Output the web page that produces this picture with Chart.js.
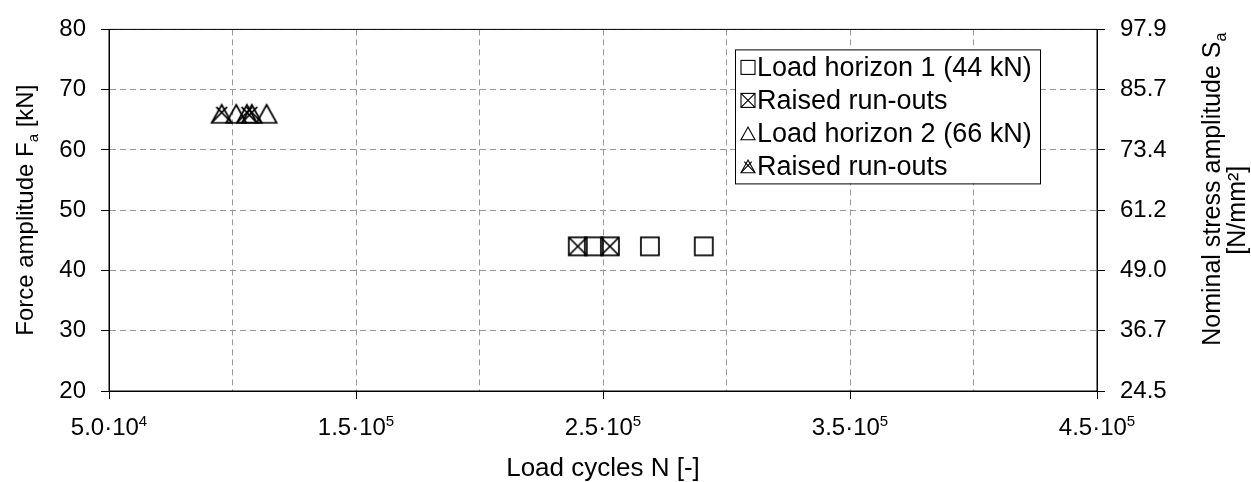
<!DOCTYPE html>
<html>
<head>
<meta charset="utf-8">
<script src="https://cdn.jsdelivr.net/npm/chart.js@4/dist/chart.umd.min.js"></script>
<style>
  body { margin: 0; background: #fff; }
  #kutu { width: 1251px; height: 482px; }
</style>
</head>
<body>
<div id="kutu"><canvas id="grafik"></canvas></div>
<script>

/*VERILER*/
var horizon1X = [246300, 269000, 290800];
var horizon1Y = [44, 44, 44];
var runout1X = [239800, 252800];
var runout1Y = [44, 44];
var horizon2X = [101500, 113800];
var horizon2Y = [66, 66];
var runout2X = [95600, 105800, 107800];
var runout2Y = [66, 66, 66];

var seriesLabels = ["Load horizon 1 (44 kN)", "Raised run-outs", "Load horizon 2 (66 kN)", "Raised run-outs"];
var xTickValues = [50000, 150000, 250000, 350000, 450000];
var xTickBase = ["5.0·10", "1.5·10", "2.5·10", "3.5·10", "4.5·10"];
var xTickExp = ["4", "5", "5", "5", "5"];
var stressTickLabels = ["24.5", "36.7", "49.0", "61.2", "73.4", "85.7", "97.9"];
/*VERILER*/

var yaziTipi = "'Liberation Sans', Arial, sans-serif";

function noktalar(xs, ys) {
  var sonuc = [];
  for (var i = 0; i < xs.length; i++) {
    sonuc.push({x: xs[i], y: ys[i]});
  }
  return sonuc;
}

/*ISARETCI KODLARI*/
function isaretciCiz(g, tur, cx, cy, s, lw) {
  g.save();
  g.strokeStyle = "#000";
  g.lineWidth = lw;
  g.lineJoin = "miter";
  var a = cx - s / 2, b = cx + s / 2;
  if (tur == "kare" || tur == "kareX") {
    var t = cy - s / 2, u = cy + s / 2;
    g.strokeRect(a, t, s, s);
    if (tur == "kareX") {
      g.beginPath();
      g.moveTo(a, t); g.lineTo(b, u);
      g.moveTo(b, t); g.lineTo(a, u);
      g.stroke();
    }
  } else {
    var h = s * 0.9;
    var ust = cy - h / 2, alt = cy + h / 2;
    g.beginPath();
    g.moveTo(cx, ust); g.lineTo(b, alt); g.lineTo(a, alt); g.closePath();
    g.stroke();
    if (tur == "ucgenX") {
      g.beginPath();
      g.moveTo(a, alt); g.lineTo(cx + s * 0.27, ust + h * 0.12);
      g.moveTo(b, alt); g.lineTo(cx - s * 0.27, ust + h * 0.12);
      g.stroke();
    }
  }
  g.restore();
}

function isaretciResmi(tur, s) {
  var c = document.createElement("canvas");
  var boy = Math.ceil(s + 6);
  c.width = boy; c.height = boy;
  isaretciCiz(c.getContext("2d"), tur, boy / 2, boy / 2, s, 1.7);
  return c;
}
/*ISARETCI KODLARI*/

var turler = ["kare", "kareX", "ucgen", "ucgenX"];

function altSimgeliYaz(g, parcalar, x, y, aci, boyut) {
  g.save();
  g.translate(x, y);
  g.rotate(aci);
  g.textBaseline = "alphabetic";
  g.textAlign = "left";
  var kucuk = Math.round(boyut * 0.62);
  var toplam = 0;
  for (var i = 0; i < parcalar.length; i++) {
    g.font = (parcalar[i][1] ? kucuk : boyut) + "px " + yaziTipi;
    toplam += g.measureText(parcalar[i][0]).width;
  }
  var px = -toplam / 2;
  for (var j = 0; j < parcalar.length; j++) {
    g.font = (parcalar[j][1] ? kucuk : boyut) + "px " + yaziTipi;
    g.fillStyle = "#000";
    var kay = 0;
    if (parcalar[j][1] == 1) kay = boyut * 0.22;
    if (parcalar[j][1] == 2) kay = -boyut * 0.38;
    g.fillText(parcalar[j][0], px, kay);
    px += g.measureText(parcalar[j][0]).width;
  }
  g.restore();
}

var cerceveVeBasliklar = {
  id: "cerceveVeBasliklar",
  afterDraw: function (chart) {
    var g = chart.ctx;
    var ca = chart.chartArea;
    var orta = (ca.top + ca.bottom) / 2;

    /* cerceve */
    g.save();
    g.strokeStyle = "#000";
    g.lineWidth = 1;
    g.strokeRect(ca.left, ca.top, ca.right - ca.left, ca.bottom - ca.top);
    g.restore();

    /* x ekseni etiketleri (ustel) */
    var xs = chart.scales.x;
    for (var k = 0; k < xTickValues.length; k++) {
      altSimgeliYaz(g, [[xTickBase[k], 0], [xTickExp[k], 2]], xs.getPixelForValue(xTickValues[k]), ca.bottom + 44, 0, 24);
    }

    /* eksen basliklari */
    altSimgeliYaz(g, [["Force amplitude F", 0], ["a", 1], [" [kN]", 0]], ca.left - 76, orta, -Math.PI / 2, 24);
    altSimgeliYaz(g, [["Nominal stress amplitude S", 0], ["a", 1]], ca.right + 123, orta - 21, -Math.PI / 2, 25);
    altSimgeliYaz(g, [["[N/mm²]", 0]], ca.right + 148, orta, -Math.PI / 2, 25);
    altSimgeliYaz(g, [["Load cycles N [-]", 0]], (ca.left + ca.right) / 2, ca.bottom + 85, 0, 26);

    /* lejant */
    var sol = ca.right - 362, ust = ca.top + 20;
    var gen = 305, yuk = 134;
    g.save();
    g.fillStyle = "#fff";
    g.fillRect(sol, ust, gen, yuk);
    g.strokeStyle = "#000";
    g.lineWidth = 1;
    g.strokeRect(sol + 0.5, ust + 0.5, gen, yuk);
    g.font = "27px " + yaziTipi;
    g.textBaseline = "alphabetic";
    g.fillStyle = "#000";
    for (var i = 0; i < seriesLabels.length; i++) {
      var sy = ust + 18 + i * 33;
      isaretciCiz(g, turler[i], sol + 13, sy, 14, 1.1);
      g.fillText(seriesLabels[i], sol + 22, sy + 9);
    }
    g.restore();
  }
};

var ctx = document.getElementById("grafik");
var myChart = new Chart(ctx, {
  type: "scatter",
  data: {
    datasets: [
      {label: seriesLabels[0], data: noktalar(horizon1X, horizon1Y), pointStyle: isaretciResmi("kare", 18), pointRadius: 10},
      {label: seriesLabels[1], data: noktalar(runout1X, runout1Y), pointStyle: isaretciResmi("kareX", 18), pointRadius: 10},
      {label: seriesLabels[2], data: noktalar(horizon2X, horizon2Y), pointStyle: isaretciResmi("ucgen", 20), pointRadius: 10},
      {label: seriesLabels[3], data: noktalar(runout2X, runout2Y), pointStyle: isaretciResmi("ucgenX", 20), pointRadius: 10}
    ]
  },
  options: {
    responsive: true,
    maintainAspectRatio: false,
    animation: false,
    layout: {padding: {top: 24, left: 0, right: 0, bottom: 0}},
    plugins: {
      legend: {display: false},
      tooltip: {enabled: false}
    },
    scales: {
      x: {
        type: "linear",
        min: 50000,
        max: 450000,
        afterFit: function (s) { s.height = 91; },
        ticks: {
          stepSize: 50000,
          autoSkip: false,
          maxRotation: 0,
          callback: function () { return ""; }
        },
        grid: {
          color: "#999",
          lineWidth: 1,
          tickLength: 8,
          tickColor: function (c) {
            return (c.tick && xTickValues.indexOf(c.tick.value) >= 0) ? "#000" : "rgba(0,0,0,0)";
          }
        },
        border: {color: "#000", width: 1, dash: [6, 4]}
      },
      y: {
        position: "left",
        min: 20,
        max: 80,
        afterFit: function (s) { s.width = 109; },
        ticks: {
          stepSize: 10,
          padding: 15,
          color: "#000",
          font: {family: yaziTipi, size: 24}
        },
        grid: {color: "#999", lineWidth: 1, tickLength: 8, tickColor: "#000"},
        border: {color: "#000", width: 1, dash: [6, 4]}
      },
      y2: {
        position: "right",
        min: 20,
        max: 80,
        afterFit: function (s) { s.width = 154; },
        ticks: {
          stepSize: 10,
          padding: 15,
          color: "#000",
          font: {family: yaziTipi, size: 24},
          callback: function (v, i) { return stressTickLabels[i]; }
        },
        grid: {drawOnChartArea: false, tickLength: 8, tickColor: "#000"},
        border: {color: "#000", width: 1}
      }
    }
  },
  plugins: [cerceveVeBasliklar]
});
</script>
</body>
</html>
